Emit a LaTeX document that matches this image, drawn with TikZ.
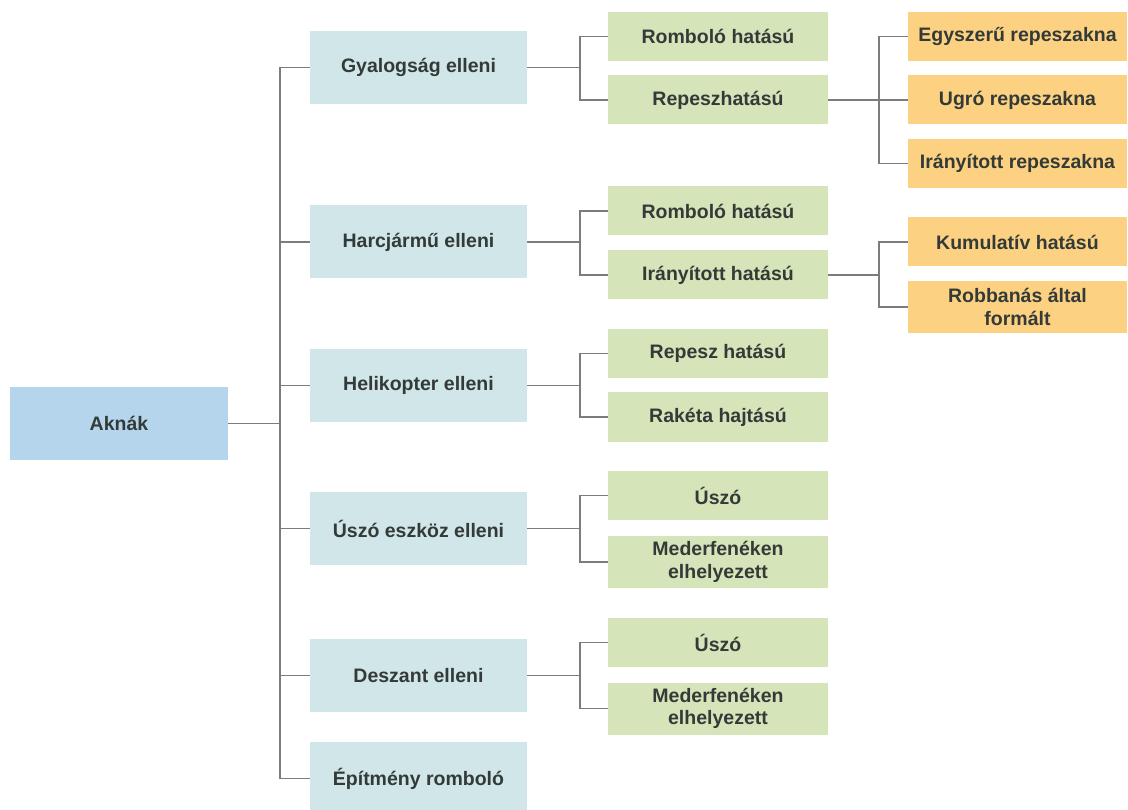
\documentclass[tikz,border=0pt]{standalone}
\usepackage{fontspec}
\setmainfont{Liberation Sans}
\definecolor{cRoot}{HTML}{B4D5EC}
\definecolor{cA}{HTML}{D0E6E8}
\definecolor{cB}{HTML}{D6E4B9}
\definecolor{cC}{HTML}{FCD282}
\definecolor{txt}{HTML}{333A38}
\definecolor{lineC}{HTML}{7C7C7C}
\begin{document}
\begin{tikzpicture}[x=1pt,y=-1pt,
  box/.style={draw=none, inner sep=0pt, align=center, font=\fontsize{19.5}{22.5}\selectfont\bfseries, text=txt},
  rootbox/.style={box, fill=cRoot, minimum width=218pt, minimum height=73pt},
  lvA/.style={box, fill=cA, minimum width=217pt, minimum height=73pt},
  lvB/.style={box, fill=cB, minimum width=220pt, minimum height=49pt},
  lvBB/.style={box, fill=cB, minimum width=220pt, minimum height=52pt},
  lvC/.style={box, fill=cC, minimum width=219pt, minimum height=49pt},
  lvCC/.style={box, fill=cC, minimum width=219pt, minimum height=52pt},
  conn/.style={draw=lineC, line width=1.4pt}]
\useasboundingbox (0,0) rectangle (1128,810);
% root
\node[rootbox] (root) at (119,423.5) {Aknák};
% level 1
\node[lvA] (a1) at (418.5,67.5) {Gyalogság elleni};
\node[lvA] (a2) at (418.5,242) {Harcjármű elleni};
\node[lvA] (a3) at (418.5,385.5) {Helikopter elleni};
\node[lvA] (a4) at (418.5,528.5) {Úszó eszköz elleni};
\node[lvA] (a5) at (418.5,675.5) {Deszant elleni};
\node[lvA] (a6) at (418.5,778.5) {Építmény romboló};
% level 2
\node[lvB] (b11) at (718,36.5) {Romboló hatású};
\node[lvB] (b12) at (718,100) {Repeszhatású};
\node[lvB] (b21) at (718,211) {Romboló hatású};
\node[lvB] (b22) at (718,275) {Irányított hatású};
\node[lvB] (b31) at (718,353.5) {Repesz hatású};
\node[lvB] (b32) at (718,417) {Rakéta hajtású};
\node[lvB] (b41) at (718,495.5) {Úszó};
\node[lvBB] (b42) at (718,562) {Mederfenéken\\elhelyezett};
\node[lvB] (b51) at (718,642.5) {Úszó};
\node[lvBB] (b52) at (718,708.5) {Mederfenéken\\elhelyezett};
% level 3
\node[lvC] (c1) at (1017.5,36.5) {Egyszerű repeszakna};
\node[lvC] (c2) at (1017.5,100) {Ugró repeszakna};
\node[lvC] (c3) at (1017.5,163.5) {Irányított repeszakna};
\node[lvC] (c4) at (1017.5,242) {Kumulatív hatású};
\node[lvCC] (c5) at (1017.5,307) {Robbanás által\\formált};
% trunk coordinates
\coordinate (t) at (280,0);
\coordinate (u) at (580,0);
\coordinate (v) at (879,0);
% connectors root -> level 1
\draw[conn] (root.east) -- (root.east -| t);
\foreach \n in {a1,a2,a3,a4,a5,a6}
  \draw[conn] (root.east -| t) |- (\n.west);
% level 1 -> level 2
\foreach \p/\x/\y in {a1/b11/b12, a2/b21/b22, a3/b31/b32, a4/b41/b42, a5/b51/b52}{
  \draw[conn] (\p.east) -- (\p.east -| u);
  \draw[conn] (\p.east -| u) |- (\x.west);
  \draw[conn] (\p.east -| u) |- (\y.west);
}
% level 2 -> level 3
\draw[conn] (b12.east) -- (b12.east -| v);
\foreach \n in {c1,c2,c3}
  \draw[conn] (b12.east -| v) |- (\n.west);
\draw[conn] (b22.east) -- (b22.east -| v);
\foreach \n in {c4,c5}
  \draw[conn] (b22.east -| v) |- (\n.west);
\end{tikzpicture}
\end{document}
